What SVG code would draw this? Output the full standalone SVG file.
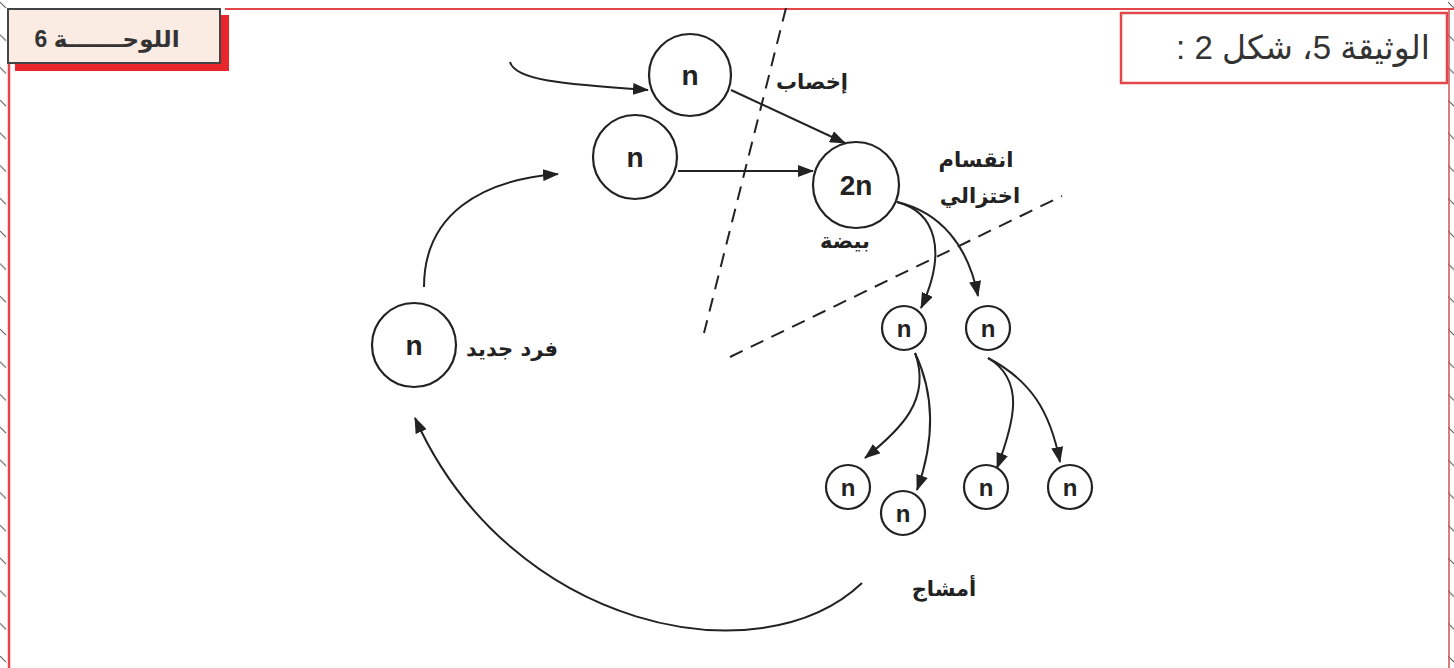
<svg xmlns="http://www.w3.org/2000/svg" width="1454" height="668" viewBox="0 0 1454 668">
<style>
.node{fill:#fff;stroke:#222;stroke-width:2.2}
.nt{font-family:"Liberation Sans","DejaVu Sans",sans-serif;font-weight:bold;fill:#222;text-anchor:middle}
.big{font-size:28px}
.sm{font-size:24px}
.lbl{font-family:"DejaVu Sans","Noto Sans",sans-serif;font-weight:bold;font-size:21px;fill:#222;text-anchor:middle}
.arr{fill:none;stroke:#222;stroke-width:2;marker-end:url(#ah)}
.dash{fill:none;stroke:#222;stroke-width:2;stroke-dasharray:14,9}
</style>
<defs>
<marker id="ah" markerUnits="userSpaceOnUse" markerWidth="16" markerHeight="12" refX="15" refY="6" orient="auto">
<path d="M0,0 L16,6 L0,12 z" fill="#222"/>
</marker>
<pattern id="ticks" patternUnits="userSpaceOnUse" width="8" height="32.7">
<line x1="0" y1="2" x2="6" y2="8" stroke="#555" stroke-width="1"/>
</pattern>
</defs>
<rect width="1454" height="668" fill="#fff"/>
<g id="frame">
<rect x="0" y="0" width="7" height="668" fill="url(#ticks)"/>
<rect x="1448" y="0" width="6" height="668" fill="url(#ticks)"/>
<line x1="9" y1="10" x2="9" y2="668" stroke="#e4474b" stroke-width="2.5"/>
<line x1="225" y1="9" x2="1454" y2="9" stroke="#e4474b" stroke-width="2"/>
<line x1="1449" y1="9" x2="1449" y2="668" stroke="#c9545a" stroke-width="1.5"/>
</g>
<g id="plate-label">
<rect x="15" y="15" width="214" height="56" fill="#e8262b"/>
<rect x="8" y="9" width="212" height="54" fill="#fbece3" stroke="#444" stroke-width="2"/>
<text x="107" y="47" direction="rtl" font-family="'Liberation Sans','DejaVu Sans',sans-serif" font-weight="bold" font-size="23" fill="#333" text-anchor="middle">اللوحـــــــة 6</text>
</g>
<g id="title">
<rect x="1121" y="13" width="326" height="70" fill="#fff" stroke="#e4474b" stroke-width="2.5"/>
<text x="1430" y="59" direction="rtl" font-family="'Liberation Sans','DejaVu Sans',sans-serif" font-size="33" fill="#333" text-anchor="start">الوثيقة 5، شكل 2 :</text>
</g>
<g id="connectors">
<line class="dash" x1="786" y1="8" x2="704" y2="333"/>
<line class="dash" x1="730" y1="357" x2="1062" y2="196"/>
<path class="arr" d="M510,62 C515,80 560,84 648,90"/>
<path class="arr" d="M731,90 L845,143"/>
<path class="arr" d="M678,171 L813,171"/>
<path class="arr" d="M424,287 C424,215 480,180 558,174"/>
<path class="arr" d="M897,202 C935,212 948,250 921,308"/>
<path class="arr" d="M897,202 C940,212 968,245 978,296"/>
<path class="arr" d="M915,353 C932,400 900,430 865,458"/>
<path class="arr" d="M915,353 C935,395 935,440 917,490"/>
<path class="arr" d="M988,358 C1025,380 1015,420 997,468"/>
<path class="arr" d="M988,358 C1030,380 1050,410 1060,462"/>
<path class="arr" d="M862,583 C760,680 510,630 415,418"/>
</g>
<g id="gamete-top"><circle class="node" cx="690" cy="75" r="41"/><text class="nt big" x="690" y="85">n</text></g>
<g id="gamete-mid"><circle class="node" cx="635" cy="157" r="42"/><text class="nt big" x="635" y="167">n</text></g>
<g id="zygote"><circle class="node" cx="856" cy="185" r="43"/><text class="nt big" x="856" y="195">2n</text></g>
<g id="new-individual"><circle class="node" cx="414" cy="345" r="42"/><text class="nt big" x="414" y="355">n</text></g>
<g id="meio-1"><circle class="node" cx="904" cy="328" r="22"/><text class="nt sm" x="904" y="337">n</text></g>
<g id="meio-2"><circle class="node" cx="988" cy="328" r="22"/><text class="nt sm" x="988" y="337">n</text></g>
<g id="spore-1"><circle class="node" cx="848" cy="487" r="22"/><text class="nt sm" x="848" y="496">n</text></g>
<g id="spore-2"><circle class="node" cx="903" cy="513" r="22"/><text class="nt sm" x="903" y="522">n</text></g>
<g id="spore-3"><circle class="node" cx="986" cy="487" r="22"/><text class="nt sm" x="986" y="496">n</text></g>
<g id="spore-4"><circle class="node" cx="1070" cy="487" r="22"/><text class="nt sm" x="1070" y="496">n</text></g>
<g id="labels">
<text class="lbl" x="812" y="89" font-size="23">إخصاب</text>
<text class="lbl" x="976" y="167">انقسام</text>
<text class="lbl" x="980" y="203">اختزالي</text>
<text class="lbl" x="845" y="248" font-size="23">بيضة</text>
<text class="lbl" x="512" y="356" font-size="22">فرد جديد</text>
<text class="lbl" x="944" y="596" font-size="22">أمشاج</text>
</g>
</svg>
